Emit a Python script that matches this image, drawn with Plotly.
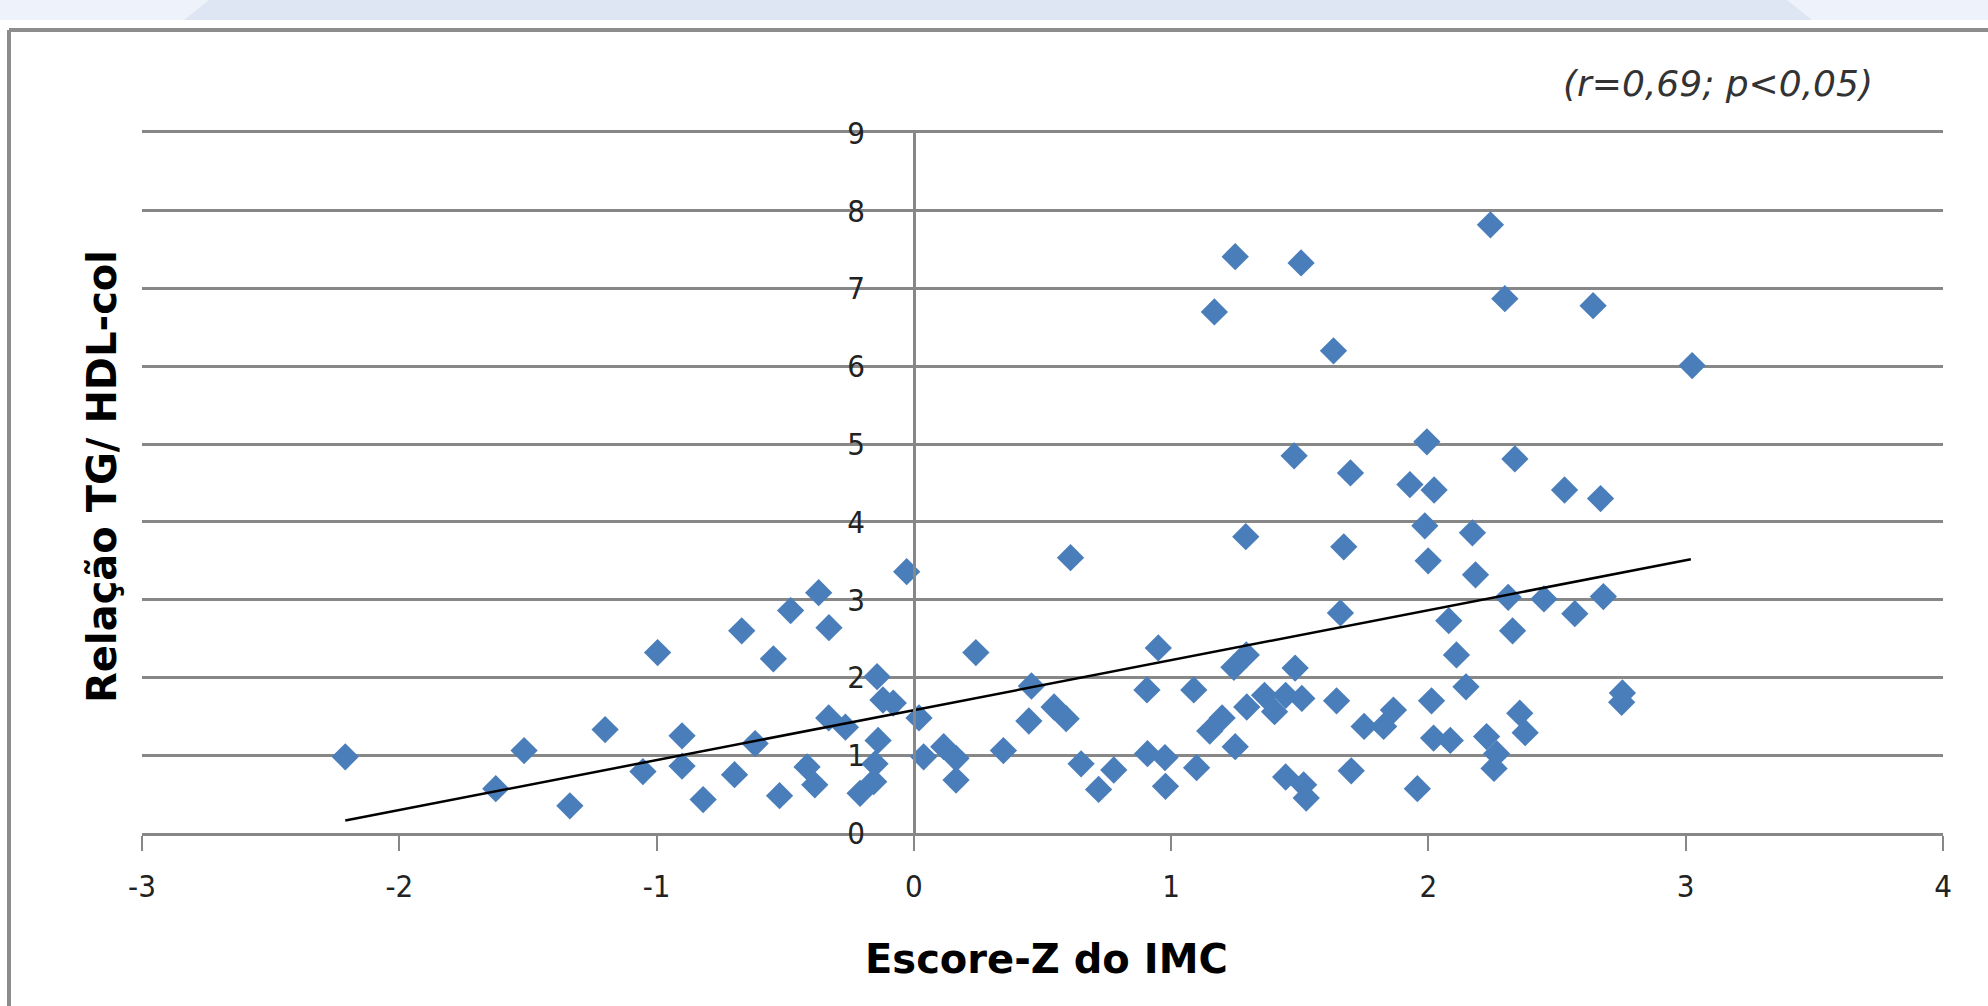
import plotly.graph_objects as go

# ---- data ----
imc_z = [-2.21, -1.625, -1.515, -1.337, -1.20, -0.996, -1.053, -0.901, -0.901, -0.819,
         -0.697, -0.669, -0.546, -0.479, -0.370, -0.330, -0.617, -0.522, -0.415, -0.385,
         -0.331, -0.266, -0.143, -0.120, -0.080, 0.020, -0.139, -0.151, -0.156, -0.209,
         -0.028, 0.038, 0.116, 0.164, 0.164, 0.241, 0.348, 0.457, 0.545, 0.592,
         0.447, 0.609, 0.650, 0.777, 0.718, 0.906, 0.950, 0.908, 0.976, 0.978,
         1.099, 1.088, 1.150, 1.198, 1.249, 1.168, 1.249, 1.290, 1.292, 1.244,
         1.294, 1.363, 1.402, 1.445, 1.508, 1.482, 1.445, 1.515, 1.525, 1.505,
         1.478, 1.631, 1.697, 1.671, 1.658, 1.643, 1.700, 1.750, 1.826, 1.864,
         1.928, 1.957, 1.986, 1.994, 1.999, 2.022, 2.012, 2.020, 2.085, 2.079,
         2.109, 2.146, 2.171, 2.183, 2.241, 2.297, 2.226, 2.265, 2.255, 2.310,
         2.327, 2.336, 2.355, 2.376, 2.449, 2.529, 2.569, 2.640, 2.669, 2.680,
         2.754, 2.751, 3.025]
tg_hdl = [0.98, 0.57, 1.06, 0.35, 1.33, 2.32, 0.79, 1.25, 0.86, 0.43,
          0.75, 2.60, 2.24, 2.86, 3.09, 2.64, 1.15, 0.48, 0.85, 0.62,
          1.48, 1.36, 2.01, 1.71, 1.67, 1.48, 1.19, 0.89, 0.66, 0.51,
          3.36, 0.98, 1.11, 0.96, 0.68, 2.32, 1.06, 1.89, 1.62, 1.47,
          1.44, 3.54, 0.89, 0.81, 0.56, 1.84, 2.38, 1.02, 0.97, 0.60,
          0.84, 1.84, 1.31, 1.48, 1.11, 6.70, 7.41, 3.81, 2.29, 2.13,
          1.62, 1.77, 1.56, 1.77, 1.73, 2.12, 0.72, 0.62, 0.45, 7.33,
          4.85, 6.20, 4.63, 3.68, 2.83, 1.70, 0.80, 1.37, 1.37, 1.58,
          4.48, 0.57, 3.95, 5.03, 3.50, 4.41, 1.70, 1.22, 1.19, 2.73,
          2.29, 1.88, 3.86, 3.32, 7.82, 6.87, 1.24, 1.02, 0.83, 3.03,
          2.60, 4.81, 1.54, 1.29, 3.01, 4.41, 2.82, 6.78, 4.30, 3.04,
          1.80, 1.68, 6.01]

trend_x = [-2.21, 3.02]
trend_y = [0.16, 3.52]

x_ticks = [-3, -2, -1, 0, 1, 2, 3, 4]
y_ticks = [0, 1, 2, 3, 4, 5, 6, 7, 8, 9]

x_title = "Escore-Z do IMC"
y_title = "Relação TG/ HDL-col"
stat_note = "(r=0,69; p<0,05)"

# ---- figure geometry (pixels) ----
W, H = 1988, 1006
L, R, T, B = 142, 45, 133, 173
PW, PH = W - L - R, H - T - B


def px(x):
    return (x - L) / PW


def py(y):
    return (H - B - y) / PH


GRID = "#878787"
BLUE = "#4a7ebb"

fig = go.Figure()

fig.add_trace(go.Scatter(
    x=imc_z, y=tg_hdl, mode="markers",
    marker=dict(symbol="diamond", size=21, color=BLUE, line=dict(width=0)),
    hoverinfo="x+y", showlegend=False,
))

fig.add_trace(go.Scatter(
    x=trend_x, y=trend_y, mode="lines",
    line=dict(color="black", width=2.5),
    hoverinfo="skip", showlegend=False,
))

shapes = [
    # light band on top of page
    dict(type="rect", xref="paper", yref="paper", x0=px(0), x1=px(W), y0=py(20), y1=py(0),
         fillcolor="#eef2fa", line=dict(width=0), layer="below"),
    dict(type="path", xref="paper", yref="paper",
         path=f"M {px(184)},{py(20)} L {px(209)},{py(0)} L {px(1787)},{py(0)} L {px(1812)},{py(20)} Z",
         fillcolor="#dee6f3", line=dict(width=0), layer="below"),
    # frame
    dict(type="line", xref="paper", yref="paper", x0=px(9), x1=px(W + 5), y0=py(30), y1=py(30),
         line=dict(color="#8c8c8c", width=4), layer="below"),
    dict(type="line", xref="paper", yref="paper", x0=px(9), x1=px(9), y0=py(30), y1=py(H + 5),
         line=dict(color="#8c8c8c", width=4), layer="below"),
]

annotations = [
    dict(text=x_title, xref="paper", yref="paper", x=px(1046), y=py(959),
         xanchor="center", yanchor="middle", showarrow=False,
         font=dict(family="DejaVu Sans", size=40, color="black", weight="bold")),
    dict(text=y_title, xref="paper", yref="paper", x=px(102), y=py(477),
         xanchor="center", yanchor="middle", showarrow=False, textangle=-90,
         font=dict(family="DejaVu Sans", size=40, color="black", weight="bold")),
    dict(text=stat_note, xref="paper", yref="paper", x=px(1718), y=py(84),
         xanchor="center", yanchor="middle", showarrow=False,
         font=dict(family="DejaVu Sans", size=36, color="#333333", style="italic")),
]

tickfont = dict(family="DejaVu Sans Condensed, DejaVu Sans", size=31, color="#222222")

fig.update_layout(
    width=W, height=H,
    margin=dict(l=L, r=R, t=T, b=B, pad=0),
    paper_bgcolor="white", plot_bgcolor="white",
    showlegend=False,
    shapes=shapes,
    annotations=annotations,
    xaxis=dict(
        range=[-3, 4], tickvals=x_ticks, ticktext=[str(v) for v in x_ticks],
        showgrid=False, zeroline=False,
        showline=True, linecolor=GRID, linewidth=3, mirror=True,
        ticks="outside", ticklen=15, tickwidth=2, tickcolor=GRID,
        tickfont=tickfont, ticklabelstandoff=9,
    ),
    yaxis=dict(
        range=[0, 9], tickvals=y_ticks, ticktext=[str(v) for v in y_ticks],
        anchor="free", position=3 / 7,
        showgrid=True, gridcolor=GRID, gridwidth=2.5,
        zeroline=False,
        showline=True, linecolor=GRID, linewidth=2.5,
        ticks="", tickfont=tickfont, ticklabelstandoff=42,
    ),
)

fig.write_html("out.html", include_plotlyjs=True, full_html=True,
               config={"displayModeBar": False},
               post_script="document.body.style.margin='0px';")
